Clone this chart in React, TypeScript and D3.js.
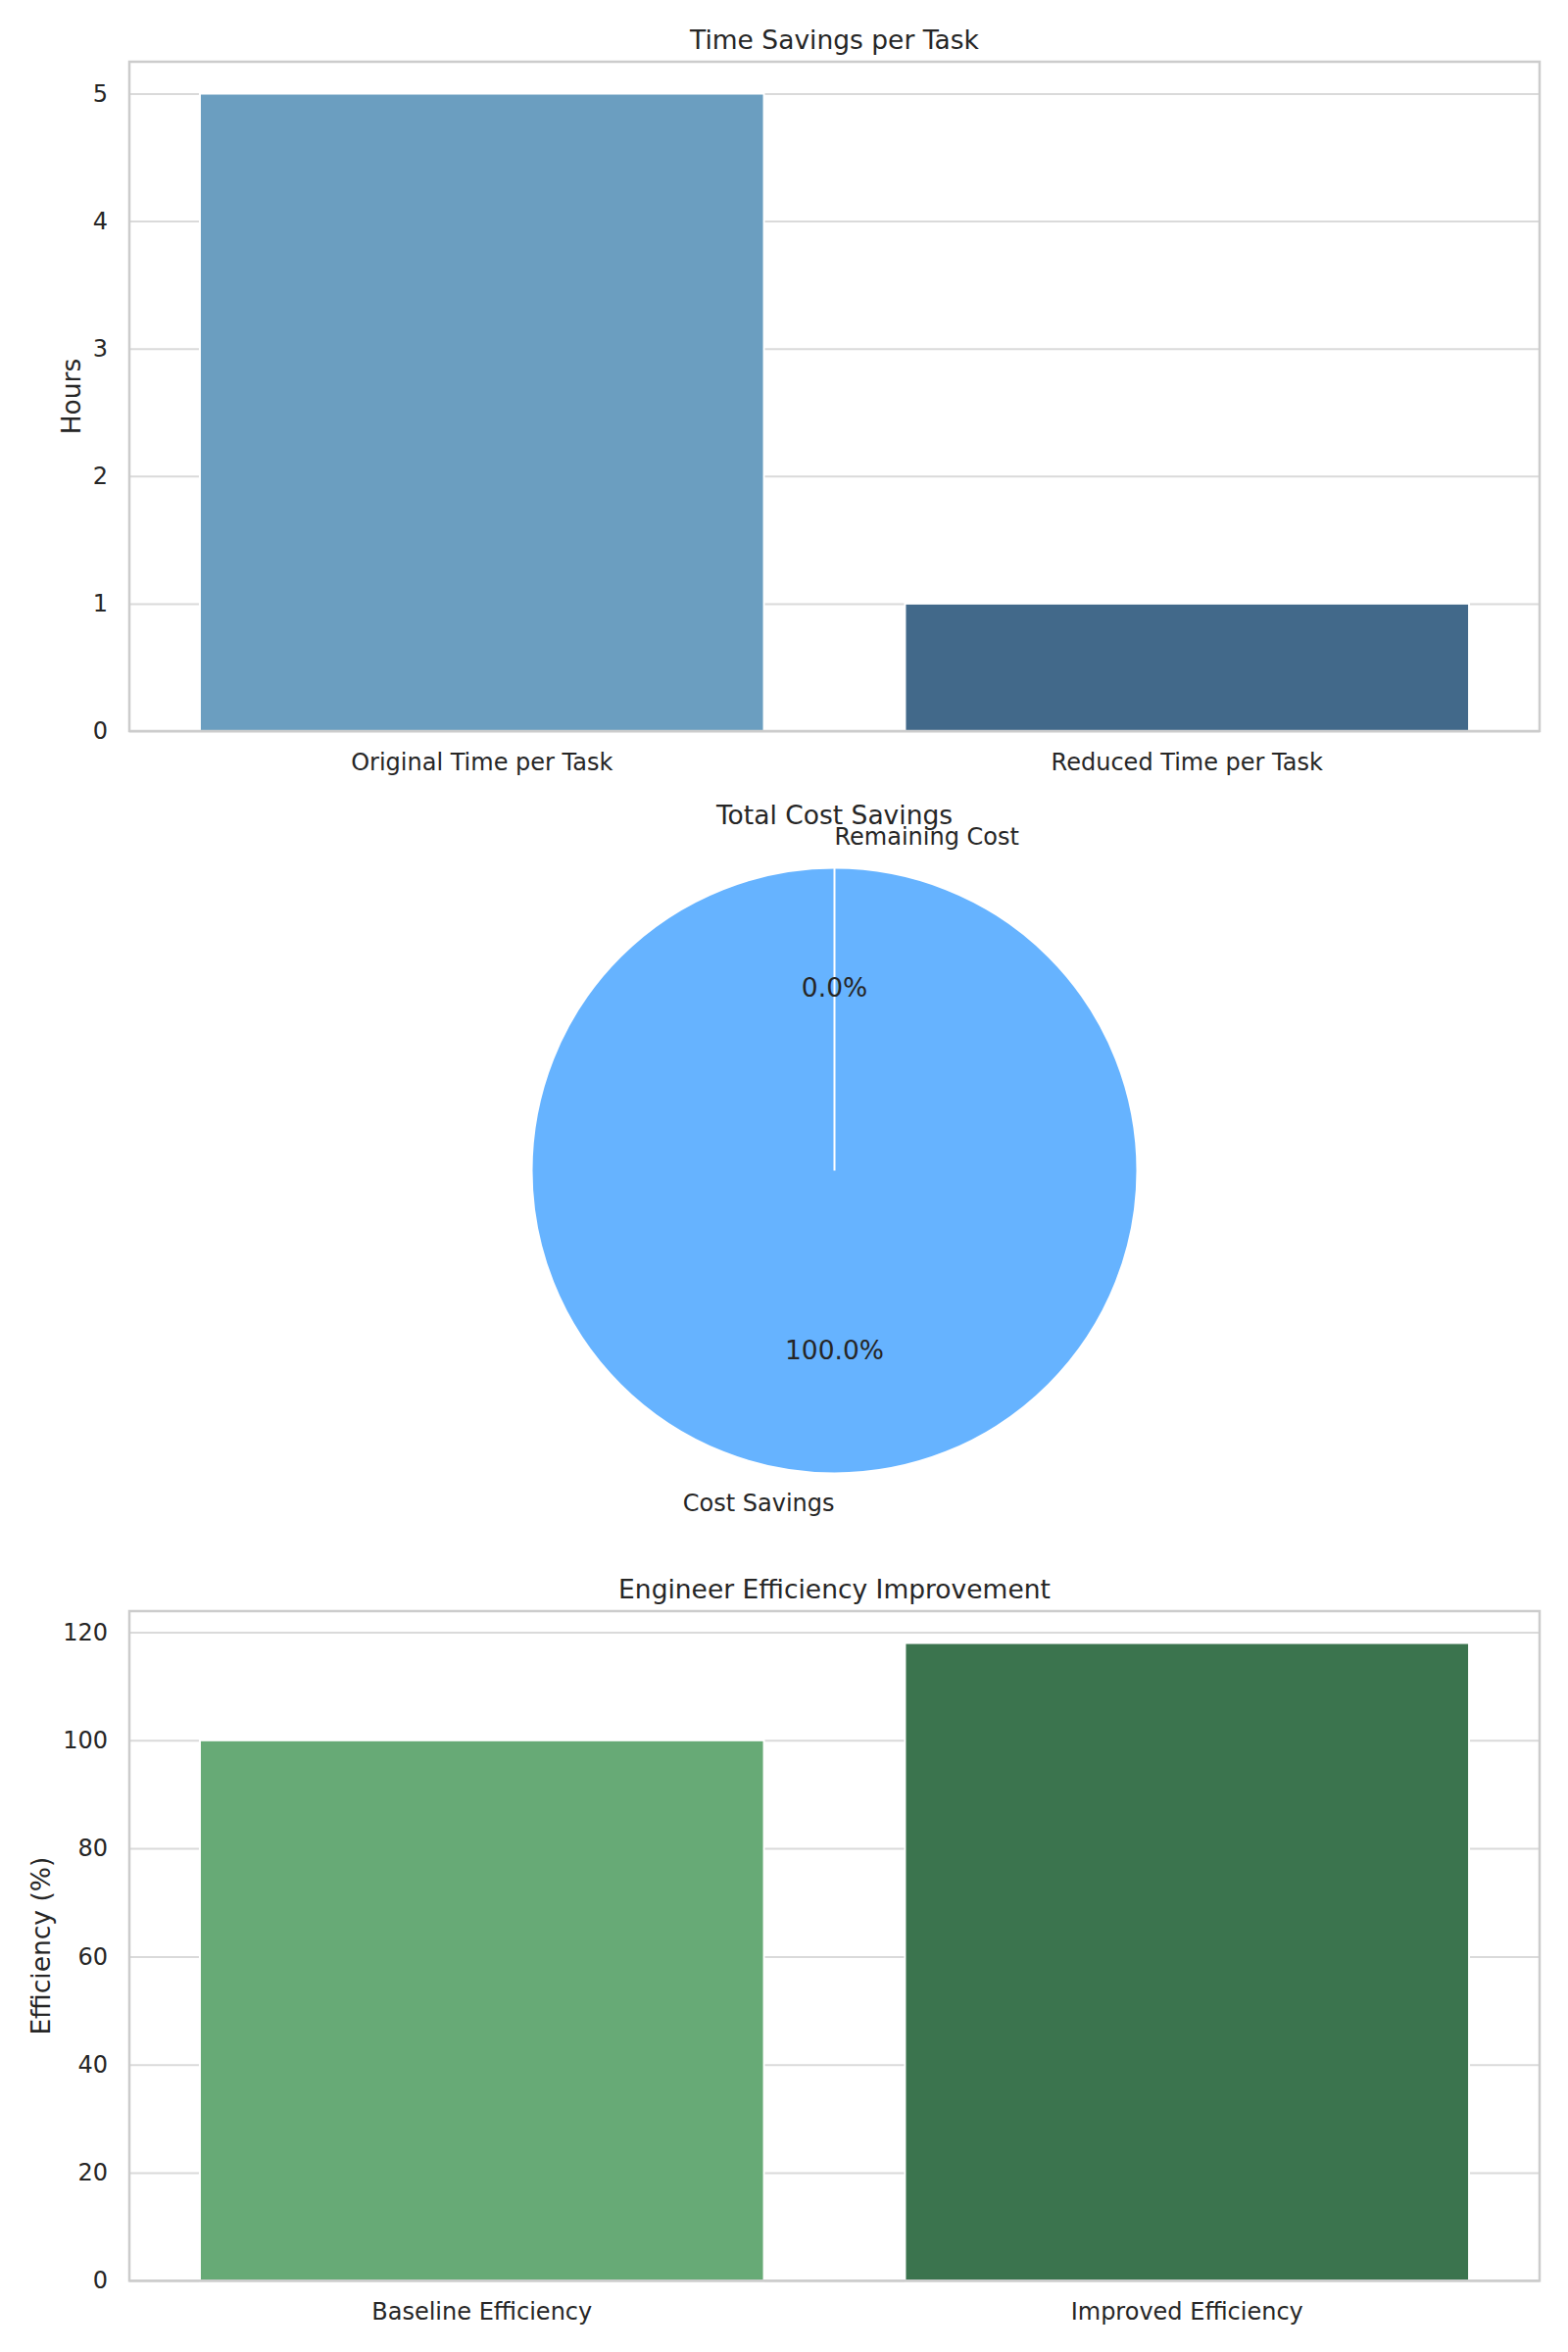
import React, { useRef, useEffect } from "react";
import * as d3 from "d3";

// ---- data ----
const timeCategories = ["Original Time per Task", "Reduced Time per Task"];
const timeValues = [5, 1];
const timeColors = ["#6b9ec0", "#42698a"];
const timeTicks = [0, 1, 2, 3, 4, 5];

const costLabels = ["Remaining Cost", "Cost Savings"];
const costValues = [0, 100];
const costColor = "#66b3ff";

const effCategories = ["Baseline Efficiency", "Improved Efficiency"];
const effValues = [100, 118];
const effColors = ["#67aa76", "#3b744e"];
const effTicks = [0, 20, 40, 60, 80, 100, 120];

const FONT = "DejaVu Sans, Verdana, sans-serif";
const TEXT = "#262626";

type BarPanel = {
  title: string;
  ylabel: string;
  ylabelX: number;
  categories: string[];
  values: number[];
  colors: string[];
  ticks: number[];
  top: number;
  bottom: number;
};

const App: React.FC = () => {
  const svgRef = useRef<SVGSVGElement | null>(null);

  useEffect(() => {
    const width = 1600;
    const height = 2400;
    const left = 132;
    const right = 1571;

    const svg = d3.select(svgRef.current);
    svg.selectAll("*").remove();
    svg.append("rect").attr("width", width).attr("height", height).attr("fill", "#fff");

    const drawBars = (p: BarPanel) => {
      const g = svg.append("g");
      const x = d3.scaleBand()
        .domain(p.categories)
        .range([left, right])
        .paddingInner(0.2)
        .paddingOuter(0.1);
      const yMax = d3.max(p.values)! * 1.05;
      const y = d3.scaleLinear().domain([0, yMax]).range([p.bottom, p.top]);

      // grid
      g.append("g")
        .attr("transform", `translate(${left},0)`)
        .call(d3.axisLeft(y).tickValues(p.ticks).tickSize(-(right - left)).tickFormat(() => ""))
        .call((a) => a.select(".domain").remove())
        .selectAll("line")
        .attr("stroke", "#dadada")
        .attr("stroke-width", 2);

      // bars
      g.selectAll("rect.bar")
        .data(p.values)
        .join("rect")
        .attr("class", "bar")
        .attr("x", (_, i) => x(p.categories[i])!)
        .attr("width", x.bandwidth())
        .attr("y", (d) => y(d))
        .attr("height", (d) => y(0) - y(d))
        .attr("fill", (_, i) => p.colors[i])
        .attr("stroke", "#fff")
        .attr("stroke-width", 2);

      // y tick labels
      g.append("g")
        .attr("transform", `translate(${left},0)`)
        .call(d3.axisLeft(y).tickValues(p.ticks).tickSize(0).tickPadding(22).tickFormat(d3.format("d")))
        .call((a) => a.select(".domain").remove())
        .selectAll("text")
        .attr("fill", TEXT)
        .style("font-family", FONT)
        .style("font-size", "24px");

      // x tick labels
      g.append("g")
        .attr("transform", `translate(0,${p.bottom})`)
        .call(d3.axisBottom(x).tickSize(0).tickPadding(23))
        .call((a) => a.select(".domain").remove())
        .selectAll("text")
        .attr("fill", TEXT)
        .style("font-family", FONT)
        .style("font-size", "24px");

      // frame
      g.append("rect")
        .attr("x", left)
        .attr("y", p.top)
        .attr("width", right - left)
        .attr("height", p.bottom - p.top)
        .attr("fill", "none")
        .attr("stroke", "#cccccc")
        .attr("stroke-width", 2.5);

      g.append("text")
        .attr("x", (left + right) / 2)
        .attr("y", p.top - 13)
        .attr("text-anchor", "middle")
        .attr("fill", TEXT)
        .style("font-family", FONT)
        .style("font-size", "26.5px")
        .text(p.title);

      g.append("text")
        .attr("transform", `translate(${p.ylabelX},${(p.top + p.bottom) / 2}) rotate(-90)`)
        .attr("text-anchor", "middle")
        .attr("dominant-baseline", "central")
        .attr("fill", TEXT)
        .style("font-family", FONT)
        .style("font-size", "26.5px")
        .text(p.ylabel);
    };

    drawBars({
      title: "Time Savings per Task",
      ylabel: "Hours",
      ylabelX: 72.5,
      categories: timeCategories,
      values: timeValues,
      colors: timeColors,
      ticks: timeTicks,
      top: 63,
      bottom: 746,
    });

    drawBars({
      title: "Engineer Efficiency Improvement",
      ylabel: "Efficiency (%)",
      ylabelX: 41,
      categories: effCategories,
      values: effValues,
      colors: effColors,
      ticks: effTicks,
      top: 1644,
      bottom: 2327.3,
    });

    // ===== pie =====
    const cx = 851.5;
    const cy = 1194.5;
    const r = 309;
    const pg = svg.append("g").attr("transform", `translate(${cx},${cy})`);

    const pie = d3.pie<number>().sort(null).value((d) => d);
    const arcs = pie(costValues);
    const arc = d3.arc<d3.PieArcDatum<number>>().innerRadius(0).outerRadius(r);
    const labelArc = d3.arc<d3.PieArcDatum<number>>().innerRadius(r * 1.1).outerRadius(r * 1.1);
    const pctArc = d3.arc<d3.PieArcDatum<number>>().innerRadius(r * 0.6).outerRadius(r * 0.6);

    // fills first, then white wedge edges on top
    pg.append("g")
      .selectAll("path")
      .data(arcs)
      .join("path")
      .attr("d", arc)
      .attr("fill", costColor);

    pg.append("g")
      .selectAll("path")
      .data(arcs)
      .join("path")
      .attr("d", arc)
      .attr("fill", "none")
      .attr("stroke", "#fff")
      .attr("stroke-width", 2);

    const total = d3.sum(costValues);
    arcs.forEach((a, i) => {
      const mid = (a.startAngle + a.endAngle) / 2;
      const theta = Math.PI / 2 + mid;
      const [lx, ly] = labelArc.centroid(a);
      pg.append("text")
        .attr("x", lx)
        .attr("y", ly)
        .attr("dy", "0.31em")
        .attr("text-anchor", Math.cos(theta) > 0 ? "start" : "end")
        .attr("fill", TEXT)
        .style("font-family", FONT)
        .style("font-size", "24px")
        .text(costLabels[i]);

      const [px, py] = pctArc.centroid(a);
      pg.append("text")
        .attr("x", px)
        .attr("y", py)
        .attr("dy", "0.28em")
        .attr("text-anchor", "middle")
        .attr("fill", TEXT)
        .style("font-family", FONT)
        .style("font-size", "26.5px")
        .text(`${((a.data / total) * 100).toFixed(1)}%`);
    });

    svg.append("text")
      .attr("x", cx)
      .attr("y", 841)
      .attr("text-anchor", "middle")
      .attr("fill", TEXT)
      .style("font-family", FONT)
      .style("font-size", "26.5px")
      .text("Total Cost Savings");
  }, []);

  return (
    <svg
      ref={svgRef}
      width={1600}
      height={2400}
      style={{ position: "absolute", left: 0, top: 0 }}
    />
  );
};

export default App;
